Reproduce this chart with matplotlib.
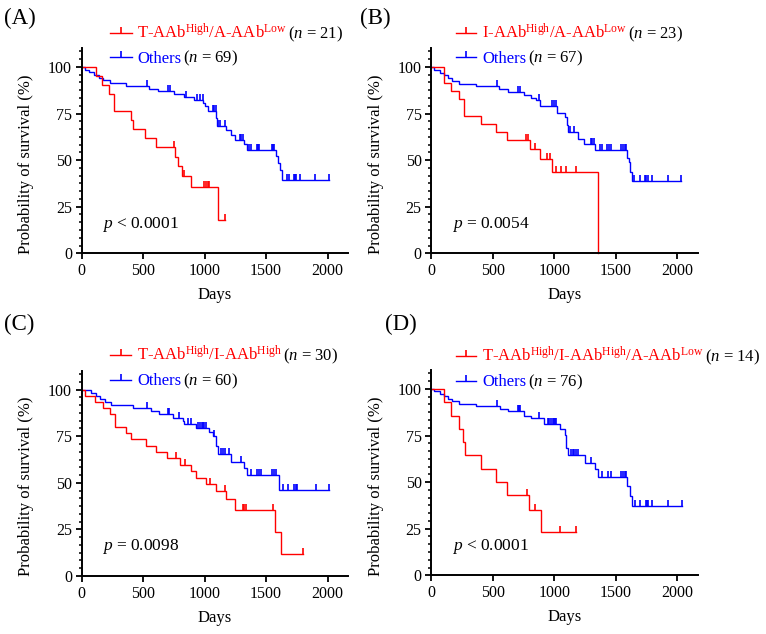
import numpy as np
import matplotlib
matplotlib.use('Agg')
import matplotlib.pyplot as plt
from matplotlib.ticker import MultipleLocator, FixedLocator

plt.rcParams['font.family'] = ['Liberation Serif', 'DejaVu Serif']
plt.rcParams['mathtext.fontset'] = 'custom'
plt.rcParams['mathtext.rm'] = 'Liberation Serif'
plt.rcParams['mathtext.it'] = 'Liberation Serif:italic'
plt.rcParams['mathtext.bf'] = 'Liberation Serif:bold'

# ---------------- data ----------------
panel_letters = ['(A)', '(B)', '(C)', '(D)']
group_labels = [r'T-AAb$^{\rm High}$/A-AAb$^{\rm Low}$',
                r'I-AAb$^{\rm High}$/A-AAb$^{\rm Low}$',
                r'T-AAb$^{\rm High}$/I-AAb$^{\rm High}$',
                r'T-AAb$^{\rm High}$/I-AAb$^{\rm High}$/A-AAb$^{\rm Low}$']
group_n = [21, 23, 30, 14]
others_n = [69, 67, 60, 76]
p_texts = [r'$p$ < 0.0001', r'$p$ = 0.0054', r'$p$ = 0.0098', r'$p$ < 0.0001']
x_ticks = [0, 500, 1000, 1500, 2000]
y_ticks = [0, 25, 50, 75, 100]

# Panel A
a_red_t = [116, 165, 219, 262, 403, 416, 519, 605, 762, 781, 814, 889, 1108]
a_red_s = [95.2, 90.5, 85.7, 76.2, 71.4, 66.7, 61.9, 57.1, 51.9, 46.8, 41.6, 35.7, 17.9]
a_red_c = [750, 835, 995, 1012, 1025, 1038, 1162]
a_blue_t = [24, 60, 100, 138, 173, 227, 362, 551, 619, 754, 835, 916, 990, 1005, 1027,
            1095, 1103, 1176, 1216, 1250, 1324, 1343, 1580, 1597, 1610, 1630]
a_blue_s = [98.6, 97.1, 95.7, 94.2, 92.8, 91.3, 89.9, 88.4, 87.0, 85.5, 83.9, 82.4, 80.5, 78.8, 76.2,
            72.5, 68.5, 65.9, 63.5, 61.0, 58.6, 55.6, 52.0, 48.5, 44.5, 39.3]
a_blue_c = [533, 700, 716, 850, 940, 965, 985, 1068, 1080, 1089, 1112, 1122, 1162, 1290, 1300, 1311,
            1359, 1378, 1424, 1435, 1446, 1545, 1555, 1567, 1667, 1690, 1724, 1735, 1743, 1775, 1900, 2013]

# Panel B
b_red_t = [107, 161, 224, 265, 402, 525, 612, 800, 882, 984, 1355]
b_red_s = [91.3, 87.0, 82.6, 73.9, 69.6, 65.2, 60.9, 56.2, 50.6, 43.4, 0.0]
b_red_c = [773, 790, 847, 945, 962, 1011, 1052, 1093, 1175]
b_blue_t = [19, 74, 107, 134, 169, 224, 361, 552, 620, 757, 812, 850, 888, 1022, 1088, 1104, 1115,
            1191, 1246, 1333, 1596, 1607, 1617, 1634]
b_blue_s = [98.5, 97.0, 95.5, 94.0, 92.5, 91.0, 89.6, 88.1, 86.6, 85.1, 83.6, 82.1, 79.0, 75.5, 73.2, 69.0, 65.2,
            61.3, 58.9, 55.4, 51.0, 49.1, 43.8, 38.9]
b_blue_c = [533, 705, 722, 880, 986, 1000, 1013, 1131, 1164, 1300, 1311, 1322, 1369, 1391, 1432, 1446, 1459,
            1546, 1560, 1575, 1582, 1650, 1697, 1738, 1750, 1760, 1792, 1923, 2032]

# Panel C
c_red_t = [24, 105, 173, 227, 268, 362, 403, 524, 606, 695, 797, 892, 927, 1013, 1094, 1173, 1249, 1576, 1622]
c_red_s = [96.7, 93.3, 90.0, 86.7, 80.0, 76.7, 73.3, 70.0, 66.7, 63.3, 59.8, 56.3, 52.8, 49.3, 45.5, 41.4,
           35.5, 23.7, 11.8]
c_red_c = [770, 843, 1040, 1168, 1310, 1322, 1338, 1559, 1797]
c_blue_t = [78, 119, 150, 190, 235, 416, 560, 633, 741, 822, 835, 930, 1038, 1065, 1092, 1106, 1214, 1322,
            1349, 1609]
c_blue_s = [98.3, 96.7, 95.0, 93.3, 91.7, 90.0, 88.3, 86.7, 84.9, 83.2, 81.4, 79.5, 77.2, 75.0, 69.5, 65.5,
            61.0, 58.0, 54.3, 46.4]
c_blue_c = [533, 700, 714, 795, 862, 889, 943, 960, 976, 984, 997, 1011, 1079, 1133, 1150, 1170, 1200, 1297,
            1376, 1425, 1440, 1457, 1552, 1565, 1579, 1636, 1676, 1730, 1740, 1749, 1906, 2014]

# Panel D
d_red_t = [107, 161, 224, 260, 271, 402, 525, 612, 798, 893]
d_red_s = [92.9, 85.7, 78.6, 71.4, 64.3, 57.1, 50.0, 42.9, 35.0, 23.0]
d_red_c = [776, 844, 1044, 1175]
d_blue_t = [19, 74, 107, 134, 169, 224, 361, 560, 620, 757, 812, 921, 1044, 1085, 1098, 1112, 1249, 1331,
            1358, 1596, 1615, 1634]
d_blue_s = [98.7, 97.4, 96.1, 94.7, 93.4, 92.1, 90.8, 89.5, 88.2, 85.5, 84.2, 81.0, 78.5, 75.5, 68.5, 64.8,
            60.3, 57.0, 52.5, 47.8, 42.5, 37.2]
d_blue_c = [533, 702, 713, 724, 880, 948, 960, 975, 989, 997, 1005, 1017, 1134, 1150, 1165, 1180, 1194,
            1303, 1385, 1437, 1459, 1546, 1560, 1575, 1582, 1655, 1697, 1743, 1752, 1760, 1798, 1923, 2038]

panels = [
    (a_red_t, a_red_s, a_red_c, a_blue_t, a_blue_s, a_blue_c),
    (b_red_t, b_red_s, b_red_c, b_blue_t, b_blue_s, b_blue_c),
    (c_red_t, c_red_s, c_red_c, c_blue_t, c_blue_s, c_blue_c),
    (d_red_t, d_red_s, d_red_c, d_blue_t, d_blue_s, d_blue_c),
]

# ---------------- layout ----------------
W, H = 766, 634
RED = '#FF0000'
BLUE = '#0000FF'
TICK_FS = 11.5
LAB_FS = 12
LEG_FS = 12
P_FS = 12.5
LET_FS = 16.5

# axes rectangles in pixels: left, bottom(from top), width, height
ax_px = [(81.7, 253.3, 266.7, 205.0), (431.3, 253.3, 266.7, 205.0),
         (81.7, 576.0, 266.7, 205.0), (431.3, 575.3, 266.7, 205.0)]
letter_px = [(4, 18), (360, 18), (4, 324), (385, 324)]
# legend: symbol x0, x1, text x, row baselines
leg_px = [(110, 132, 137, (38.3, 62.7)), (456, 476, 482, (38.3, 62.7)),
          (110, 131, 137, (360.5, 385.3)), (456, 476, 482, (361.5, 386.5))]

fig = plt.figure(figsize=(W / 100, H / 100), dpi=100)
ov = fig.add_axes([0, 0, 1, 1], zorder=10)
ov.set_xlim(0, W)
ov.set_ylim(H, 0)
ov.axis('off')
ov.patch.set_alpha(0)


def km(ax, times, surv, cens, color):
    times = np.asarray(times, float)
    surv = np.asarray(surv, float)
    cens = np.asarray(cens, float)
    end = max(times[-1], cens.max())
    x = np.concatenate([[0], times, [end]])
    y = np.concatenate([[100], surv, [surv[-1]]])
    ax.step(x, y, where='post', color=color, lw=1.0, solid_joinstyle='miter', clip_on=False)
    idx = np.searchsorted(times, cens, side='right')
    ys = np.concatenate([[100], surv])[idx]
    ax.plot(cens, ys, ls='none', marker=2, ms=4, mew=1.2, color=color, clip_on=False)


for i, (rt, rs, rc, bt, bs, bc) in enumerate(panels):
    l, b, w, h = ax_px[i]
    ax = fig.add_axes([l / W, 1 - b / H, w / W, h / H])
    km(ax, bt, bs, bc, BLUE)
    km(ax, rt, rs, rc, RED)
    ax.set_xlim(0, 2170)
    ax.set_ylim(0, 110)
    ax.spines[['top', 'right']].set_visible(False)
    for s in ['left', 'bottom']:
        ax.spines[s].set_linewidth(1.4)
    ax.xaxis.set_major_locator(FixedLocator(x_ticks))
    ax.yaxis.set_major_locator(FixedLocator(y_ticks))
    ax.yaxis.set_minor_locator(MultipleLocator(25 / 6))
    ax.tick_params(axis='both', which='major', direction='out', length=4, width=1.3,
                   labelsize=TICK_FS, pad=3)
    ax.tick_params(axis='y', which='minor', direction='out', length=2.5, width=1.1)
    ax.set_xlabel('Days', fontsize=LAB_FS, labelpad=6)
    ax.set_ylabel('Probability of survival (%)', fontsize=LAB_FS)
    ax.yaxis.set_label_coords(-0.179, 0.436)
    ax.text(165, 15.7, p_texts[i], fontsize=P_FS, ha='left', va='center')

    # panel letter
    lx, ly = letter_px[i]
    ov.text(lx, ly, panel_letters[i], fontsize=LET_FS, ha='left', va='center')

    # legend
    x0, x1, tx, (b1, b2) = leg_px[i]
    for (lab, n, col, base) in [(group_labels[i], group_n[i], RED, b1),
                                ('Others', others_n[i], BLUE, b2)]:
        sy = base - 5.7
        ov.plot([x0, x1], [sy, sy], color=col, lw=1.0)
        ov.plot([(x0 + x1) / 2], [sy], ls='none', marker=2, ms=4, mew=1.2, color=col)
        t1 = ov.text(tx, base, lab, fontsize=LEG_FS, color=col, ha='left', va='baseline')
        ov.annotate('($n$ = %d)' % n, xy=(1, base), xycoords=(t1, 'data'), xytext=(1.0, 0),
                    textcoords='offset points', ha='left', va='baseline',
                    fontsize=LEG_FS, color='black', annotation_clip=False)

fig.savefig('out.png', dpi=100)
